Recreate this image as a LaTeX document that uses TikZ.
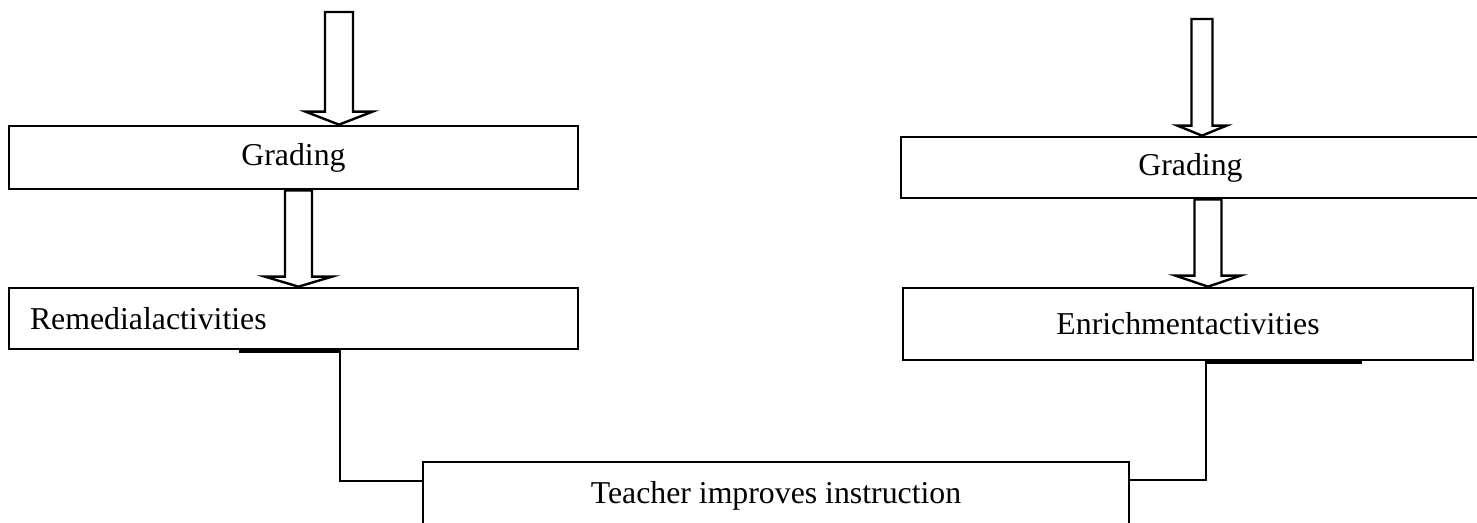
\documentclass[tikz,border=0pt]{standalone}
\usepackage{fontspec}
\setmainfont{Liberation Serif}
\usetikzlibrary{calc}
\tikzset{
  box/.style={draw, line width=2.7pt, rectangle, inner sep=0pt, fill=white,
    font=\fontsize{31.8}{38}\selectfont},
  harrow/.style={draw, line width=2.4pt, fill=white, line join=miter},
  conn/.style={draw, line width=2.7pt}
}
\newcommand\hollowarrow[5]{%
  \path[harrow] let \p1=#1, \p2=#2 in
    (\x2-#3pt,\y1) -- (\x2+#3pt,\y1) -- (\x2+#3pt,\y2+#5pt) -- (\x2+#4pt,\y2+#5pt)
    -- (\x2,\y2) -- (\x2-#4pt,\y2+#5pt) -- (\x2-#3pt,\y2+#5pt) -- cycle;}
\begin{document}
\begin{tikzpicture}[x=1pt,y=-1pt]
\useasboundingbox (0,0) rectangle (1477,522);
\clip (0,0) rectangle (1477,522);
% boxes
\node[box, minimum width=569pt, minimum height=63pt] (gradL) at (293.5,157.5) {Grading};
\node[box, minimum height=61pt, text width=527pt, inner xsep=21pt, align=left] (remL) at (293.5,318.5) {Remedialactivities};
\node[box, minimum width=579pt, minimum height=61pt] (gradR) at (1190.5,167.5) {Grading};
\node[box, minimum width=570pt, minimum height=72pt] (enrR) at (1188,324) {Enrichmentactivities};
\node[box, minimum width=706pt, minimum height=108pt, inner ysep=21pt, text height=20pt, text depth=46pt] (teach) at (776,516) {Teacher improves instruction};
% free ends of the top arrows
\coordinate (inL) at (339,12);
\coordinate (inR) at (1202,19);
% hollow arrows
\hollowarrow{(inL)}{(gradL.north -| inL)}{14}{33.5}{13}
\hollowarrow{(gradL.south -| 298.5,0)}{(remL.north -| 298.5,0)}{13.5}{33.5}{10}
\hollowarrow{(inR)}{(gradR.north -| inR)}{10.5}{24.5}{10}
\hollowarrow{(gradR.south -| 1208,0)}{(enrR.north -| 1208,0)}{13.5}{32.5}{11}
% connectors
\coordinate (cl) at (340,481);
\coordinate (cr) at (1206,480);
\draw[conn] ([yshift=-1pt]remL.south -| 239,0) -- ([yshift=-1pt]remL.south -| cl) -- (cl) -- (cl -| teach.west);
\draw[conn] ([yshift=-1pt]enrR.south -| 1362,0) -- ([yshift=-1pt]enrR.south -| cr) -- (cr) -- (cr -| teach.east);
\end{tikzpicture}
\end{document}
